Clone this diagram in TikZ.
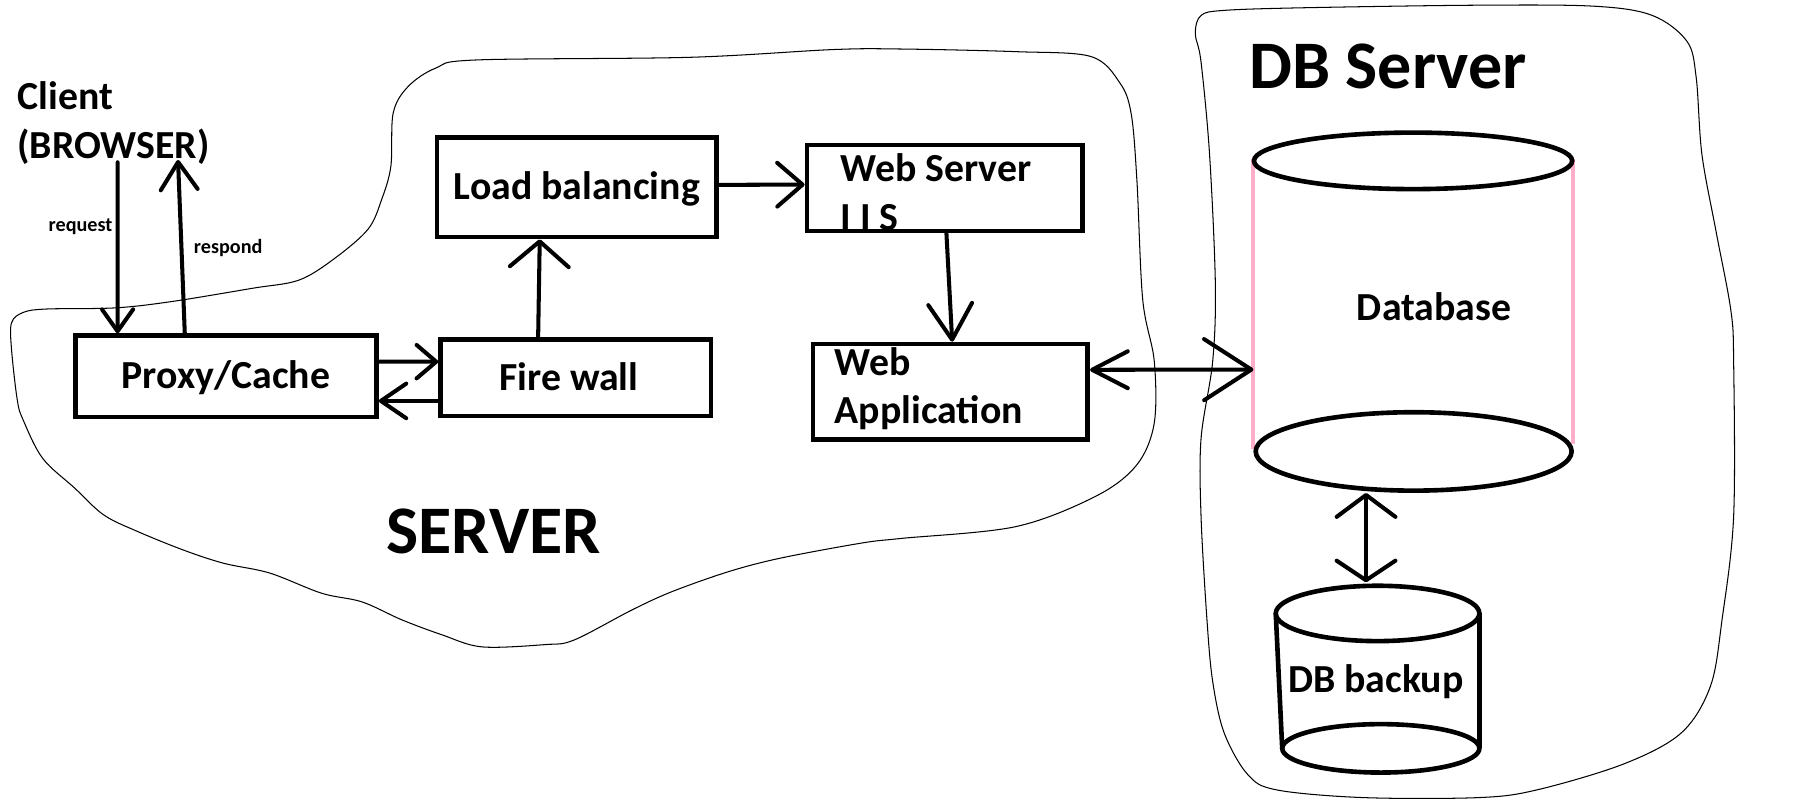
\documentclass[tikz,border=0pt]{standalone}
\usepackage{fontspec}
\setmainfont{Carlito}
\usetikzlibrary{arrows.meta}
\definecolor{pinkside}{RGB}{255,174,201}

\begin{document}
\begin{tikzpicture}[
x=1pt, y=-1pt,
lbl/.style={font=\bfseries\fontsize{34.5}{42}\selectfont, inner sep=0pt},
small/.style={font=\bfseries\fontsize{17.5}{21}\selectfont, inner sep=0pt},
big/.style={font=\bfseries\fontsize{59}{70}\selectfont, inner sep=0pt},
box/.style={rectangle, draw=black, line width=4pt, lbl, text height=21.8pt, text depth=0pt},
arr/.style={line width=3.5pt, line cap=round},
vhead/.style 2 args={arrows={-{Straight Barb[length=#1pt,width=#2pt,round]}}},
vheads/.style n args={4}{arrows={{Straight Barb[length=#1pt,width=#2pt,round]}-{Straight Barb[length=#3pt,width=#4pt,round]}}},
blob/.style={line width=0.9pt},
cyl/.style={line width=4pt},
side/.style={line width=3.5pt, draw=pinkside},
]
\useasboundingbox (0,0) rectangle (1568,694);

% the two clouds
\draw[blob] plot[smooth cycle, tension=0.55] coordinates {
  (10,280) (20,271) (40,268) (100,267) (149,261.5) (219,250) (259,243)
  (289,225) (319,199) (331,173) (339,144) (341,98) (354,75) (378,59)
  (413,52) (598,49.7) (722,43) (781,42.5) (881,44.8) (946,49) (971,71.6)
  (981,98.5) (986,156.7) (991,259.7) (1001,313) (1001,367) (986,403)
  (951,430) (881,456.7) (781,467) (747,471) (677,484) (632,495.7)
  (583,513) (548,529) (498,555) (473,559) (418,561) (383.5,550.6)
  (348.6,537.6) (314,522) (279,514.5) (234,497) (194,488.5) (159,477)
  (119.5,461) (90,446.6) (65,423.5) (37,397.5) (20,364) (15,347) (10,303)};
\draw[blob] plot[smooth cycle, tension=0.55] coordinates {
  (1036.6,29) (1041.6,13.4) (1061.7,9) (1132,6.7) (1282.6,4.5) (1383,5.4)
  (1433,13.4) (1463,35.8) (1471,67) (1476,134) (1488.4,201.5) (1501,268.6)
  (1503.5,313) (1503.5,447.7) (1493.5,537) (1483.4,595) (1458,635.7)
  (1408,662.6) (1333,685) (1282.6,691.7) (1182,691.7) (1107,685)
  (1082,671.6) (1061.7,635.7) (1051.7,591) (1046.7,537) (1041.6,447.7)
  (1041.6,380.5) (1051.7,313.4) (1054,246) (1049,134) (1041.6,53.7)};

% texts
\node[lbl, anchor=base west, align=left] (client) at (15,137.3) {Client\\(BROWSER)};
\node[small, anchor=base west] (req) at (42,201) {request};
\node[small, anchor=base west] (resp) at (168,219.6) {respond};
\node[big, anchor=base west] (server) at (334.7,479.8) {SERVER};
\node[big, anchor=base west] (dbserver) at (1083.3,77) {DB Server};

% boxes
\node[box, minimum width=261.3pt, minimum height=70.7pt] (proxy) at (195.9,326.4) {Proxy/Cache};
\node[box, minimum width=234.5pt, minimum height=66.3pt, align=flush left, text width=132.5pt] (fire) at (499.3,327.7) {Fire wall};
\node[box, minimum width=242.5pt, minimum height=86.5pt] (load) at (500.3,162.3) {Load balancing};
\node[box, minimum width=239.2pt, minimum height=74.7pt, align=flush left, text width=180.8pt, text depth=32.7pt] (web) at (819.4,163.1) {Web Server\\I I S};
\node[box, minimum width=238.3pt, minimum height=82.7pt, align=flush left, text width=200.3pt, text depth=50.7pt] (app) at (824.2,339.7) {Web\\Application};

% database cylinders
\draw[side] (1087,138) -- (1087,389.5);
\draw[side] (1364,138) -- (1364,385);
\draw[cyl] (1225.5,139.5) ellipse [x radius=138pt, y radius=24.5pt];
\draw[cyl] (1226,391.5) ellipse [x radius=137pt, y radius=34pt];
\node[lbl, anchor=base] (db) at (1243.7,277.6) {Database};
\draw[cyl] (1106.4,532) -- (1112,649);
\draw[cyl] (1283,532) -- (1283,649);
\draw[cyl] (1194.7,532) ellipse [x radius=88.3pt, y radius=24pt];
\draw[cyl] (1197.5,649) ellipse [x radius=85.5pt, y radius=21pt];
\node[lbl, anchor=base] (bak) at (1193.2,600.7) {DB backup};
\coordinate (dbW) at (1087,320.5);
\coordinate (dbS) at (1184.7,427.5);
\coordinate (bakN) at (1184.7,505);

% connectors
\draw[arr, vhead={19}{27}] ([xshift=87pt,yshift=2pt]client.south west) -- ([xshift=38.7pt]proxy.north west);
\draw[arr, vhead={24}{32}] ([xshift=97pt]proxy.north west) -- ([xshift=139.4pt,yshift=4pt]client.south west);
\draw[arr, vhead={17}{29}] ([yshift=12.8pt]proxy.east) -- ([yshift=14pt]fire.west);
\draw[arr, vhead={22}{30}] ([yshift=-20pt]fire.west) -- ([yshift=-21.3pt]proxy.east);
\draw[arr, vhead={22}{51}] ([xshift=-32.6pt]fire.north) -- ([xshift=-32.2pt]load.south);
\draw[arr, vhead={22}{38}] ([yshift=2pt]load.east) -- ([yshift=3pt]web.west);
\draw[arr, vhead={31}{38}] ([xshift=1.4pt]web.south) -- ([xshift=1.6pt]app.north);
\draw[arr, vheads={31}{32}{41}{53}] ([yshift=19pt]app.east) -- (dbW);
\draw[arr, vheads={19}{51}{17}{51}] (dbS) -- (bakN);
\end{tikzpicture}
\end{document}
